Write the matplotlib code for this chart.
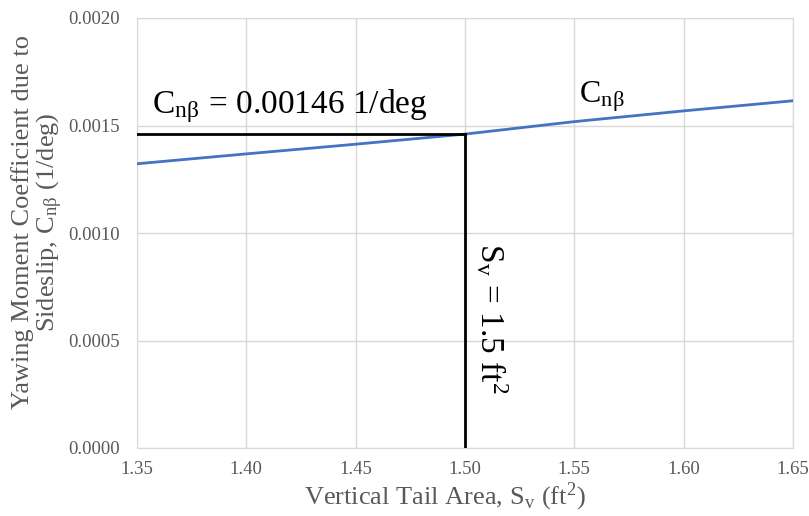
import matplotlib
matplotlib.use("Agg")
import matplotlib.pyplot as plt

# data
tail_area = [1.35, 1.40, 1.45, 1.50, 1.55, 1.60, 1.65]
cn_beta = [0.001322, 0.001368, 0.001413, 0.001460, 0.001518, 0.001568, 0.001615]
design_area = 1.50
design_cn = 0.00146
x_ticks = [1.35, 1.40, 1.45, 1.50, 1.55, 1.60, 1.65]
y_ticks = [0.0000, 0.0005, 0.0010, 0.0015, 0.0020]

plt.rcParams['font.family'] = ['Liberation Serif', 'DejaVu Serif']
plt.rcParams['mathtext.fontset'] = 'stix'

gray = '#595959'
grid = '#d9d9d9'
W, H = 809, 516

fig = plt.figure(figsize=(W / 100, H / 100), dpi=100)
ax = fig.add_axes([137 / W, 1 - 448 / H, (793 - 137) / W, (448 - 18) / H])

ax.plot(tail_area, cn_beta, color='#4472C4', lw=2, zorder=3)
ax.plot([x_ticks[0], design_area], [design_cn, design_cn], color='black', lw=2, zorder=4)
ax.plot([design_area, design_area], [0, design_cn], color='black', lw=2, zorder=4)

ax.set_xlim(x_ticks[0], x_ticks[-1])
ax.set_ylim(y_ticks[0], y_ticks[-1])
ax.set_xticks(x_ticks)
ax.set_yticks(y_ticks)
ax.set_xticklabels([f"{v:.2f}" for v in x_ticks])
ax.set_yticklabels([f"{v:.4f}" for v in y_ticks])
ax.tick_params(length=0, labelsize=13.5, colors=gray)
ax.tick_params(axis='y', pad=12)
ax.tick_params(axis='x', pad=9)
ax.grid(True, color=grid, lw=1)
ax.set_axisbelow(True)
for s in ax.spines.values():
    s.set_color(grid)

# axis titles
fig.text(445 / W, 1 - 497 / H,
         r"Vertical Tail Area, S$_\mathregular{v}$ (ft$^\mathregular{2}$)",
         fontsize=19, color=gray, ha='center', va='center')
fig.text(38 / W, 1 - 222 / H,
         "Yawing Moment Coefficient due to\n"
         r"Sideslip, C$_{\mathregular{n\beta}}$ (1/deg)",
         fontsize=19, color=gray, ha='center', va='center', rotation=90,
         multialignment='center', linespacing=1.0)

# annotations
ax.text(1.357, 0.001558, r"C$_{\mathregular{n\beta}}$ = 0.00146 1/deg",
        fontsize=24, color='black')
ax.text(1.552, 0.001605, r"C$_{\mathregular{n\beta}}$", fontsize=23, color='black')
ax.text(1.504, 0.000953, r"S$_\mathregular{v}$ = 1.5 ft$^\mathregular{2}$",
        fontsize=24, color='black', rotation=270, va='top', ha='left')

fig.savefig("out.png", dpi=100)
